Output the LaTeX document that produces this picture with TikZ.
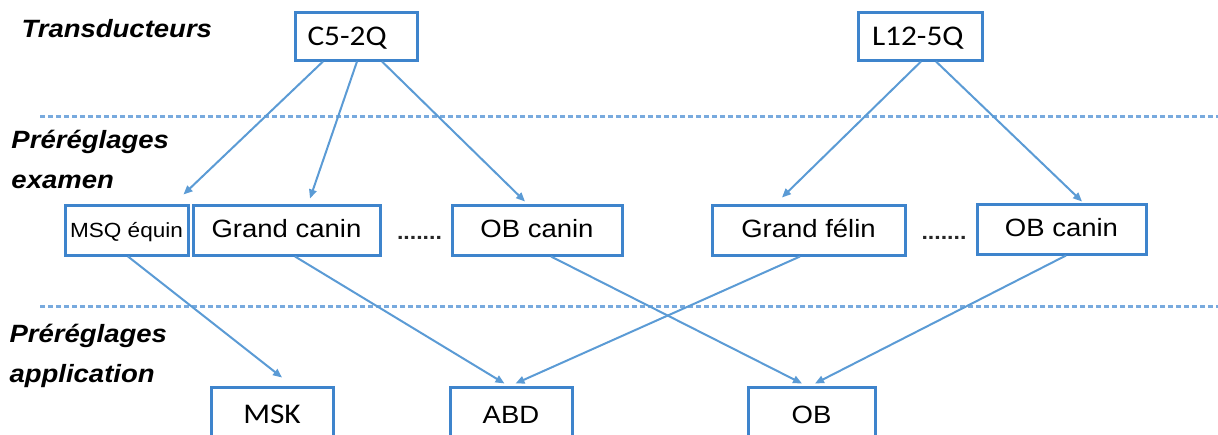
\documentclass[tikz,border=0pt]{standalone}
\usepackage{fontspec}
\setmainfont{Liberation Sans}[FakeStretch=1.1]
\newfontfamily\calibri{Carlito}[FakeStretch=1.1]
\usepackage{tikz}
\usetikzlibrary{arrows.meta}

\definecolor{lienbleu}{RGB}{91,155,213}
\definecolor{cadrebleu}{RGB}{62,132,204}
\definecolor{tiretbleu}{RGB}{120,170,222}

\begin{document}
\begin{tikzpicture}[
			x=1pt, y=-1pt,
			every node/.style={
					draw=cadrebleu,
					line width=3pt,
					fill=white,
					inner sep=0pt,
					font=\fontsize{25}{30}\selectfont,
					text height=18pt, % Height above the baseline
					text depth=4pt    % Depth below the baseline
				},
			sonde/.style={
					font=\calibri\fontsize{28.5}{34}\selectfont,
					text height=19pt,
					text depth=0pt,
					align=left,
					minimum height=48pt
				},
			etiquette/.style={
					draw=none,
					fill=none,
					text height=,
					text depth=,
					anchor=base west,
					align=left,
					font=\bfseries\itshape\fontsize{25}{40}\selectfont
				},
			lien/.style={->, >={Triangle[length=9pt,width=7.5pt]}, draw=lienbleu, line width=2pt},
			separation/.style={draw=tiretbleu, line width=3pt, dash pattern=on 5pt off 3pt}
		]
		\useasboundingbox (0,0) rectangle (1218,434);

		% separations
		\coordinate (sa1) at (40,116);
		\coordinate (sa2) at (1218,116);
		\coordinate (sb1) at (40,306);
		\coordinate (sb2) at (1218,306);
		\draw[separation] (sa1) -- (sa2);
		\draw[separation] (sb1) -- (sb2);

		% etiquettes (base = derniere ligne)
		\node[etiquette] (ltrans) at (20,37) {Transducteurs};
		\node[etiquette] (lexam) at (10,188) {Préréglages\\examen};
		\node[etiquette] (lappli) at (8,382) {Préréglages\\application};

		% transducteurs
		\node[sonde, text width=97pt, inner xsep=12.5pt] (nc52q) at (356,36) {C5-2Q};
		\node[sonde, text width=96pt, inner xsep=14pt] (nl125q) at (920,36) {L12-5Q};

		% examens
		\node[minimum width=123pt, minimum height=50pt, font=\fontsize{20.5}{24}\selectfont] (nmsq) at (126.5,230) {MSQ équin};
		\node[minimum width=187pt, minimum height=50pt] (ngcanin) at (286.5,230) {Grand canin};
		\node[minimum width=170pt, minimum height=50pt] (nobcanin) at (537,230) {OB canin};
		\node[minimum width=193pt, minimum height=50pt] (ngfelin) at (808.5,230) {Grand félin};
		\node[minimum width=169pt, minimum height=50pt] (nobcanin2) at (1061.5,229) {OB canin};
		\node[draw=none, fill=none, text=black!85, font=\bfseries\fontsize{21}{24}\selectfont] (npts1) at (419.5,232) {.......};
		\node[draw=none, fill=none, text=black!85, font=\bfseries\fontsize{21}{24}\selectfont] (npts2) at (944,232) {.......};

		% applications
		\node[minimum width=122pt, minimum height=58pt, font=\calibri\fontsize{28.5}{34}\selectfont] (nmsk) at (272,416) {MSK};
		\node[minimum width=122pt, minimum height=58pt] (nabd) at (511,416) {ABD};
		\node[minimum width=127pt, minimum height=58pt] (nob) at (811.5,416) {OB};

		\draw[lien] ([xshift=-33pt]nc52q.south) -- ([xshift=-6pt, yshift=9pt]nmsq.north east);
		\draw[lien] ([xshift=1pt]nc52q.south) -- ([xshift=23.5pt, yshift=5pt]ngcanin.north);
		\draw[lien] ([xshift=26pt]nc52q.south) -- ([xshift=-12pt, yshift=2pt]nobcanin.north);
		\draw[lien] ([xshift=1pt]nl125q.south) -- ([xshift=-26.5pt, yshift=6pt]ngfelin.north);
		\draw[lien] ([xshift=16pt]nl125q.south) -- ([xshift=20.5pt, yshift=1pt]nobcanin2.north);
		\draw[lien] ([xshift=1.5pt]nmsq.south) -- ([xshift=10pt, yshift=8pt]nmsk.north);
		\draw[lien] ([xshift=8.5pt]ngcanin.south) -- ([xshift=-6.5pt, yshift=2pt]nabd.north);
		\draw[lien] ([xshift=-8.5pt]ngfelin.south) -- ([xshift=4.5pt, yshift=2pt]nabd.north);
		\draw[lien] ([xshift=14pt]nobcanin.south) -- ([xshift=-9.5pt, yshift=2pt]nob.north);
		\draw[lien] ([xshift=4.5pt]nobcanin2.south) -- ([xshift=3.5pt, yshift=2pt]nob.north);

	\end{tikzpicture}
\end{document}
